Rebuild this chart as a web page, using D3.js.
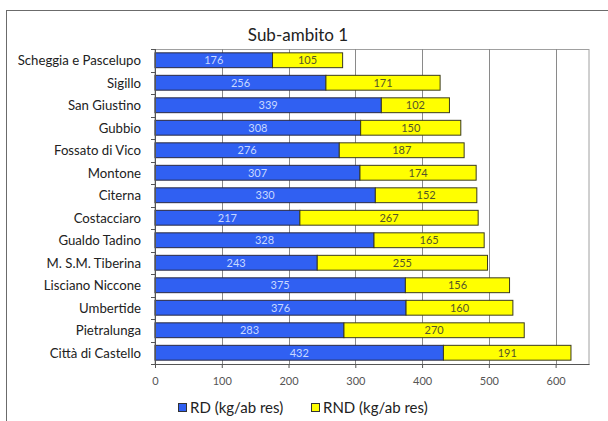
<!DOCTYPE html>
<html><head><meta charset="utf-8">
<script src="https://cdn.jsdelivr.net/npm/d3@7"></script>
<style>body{margin:0;background:#fff;} svg{display:block;font-family:Lato,"Open Sans",sans-serif;}</style>
</head><body>
<script>
const categories = ["Scheggia e Pascelupo","Sigillo","San Giustino","Gubbio","Fossato di Vico","Montone","Citerna","Costacciaro","Gualdo Tadino","M. S.M. Tiberina","Lisciano Niccone","Umbertide","Pietralunga","Città di Castello"];
const rd  = [176,256,339,308,276,307,330,217,328,243,375,376,283,432];
const rnd = [105,171,102,150,187,174,152,267,165,255,156,160,270,191];
const seriesNames = ["RD (kg/ab res)","RND (kg/ab res)"];
const xTicks = [0,100,200,300,400,500,600];
const title = "Sub-ambito 1";

const W=608,H=421;
const m={l:155,r:19,t:49,b:57};
const svg=d3.select("body").append("svg").attr("width",W).attr("height",H);
svg.append("rect").attr("x",6.5).attr("y",10.5).attr("width",620).attr("height",430).attr("fill","#fff").attr("stroke","#6b6b6b");

const x=d3.scaleLinear().domain([0,650]).range([m.l,W-m.r]);
const y=d3.scaleBand().domain(categories).range([m.t,H-m.b]).paddingInner(0.34).paddingOuter(0.17);

svg.append("rect").attr("x",x(0)).attr("y",m.t+0.5).attr("width",x(650)-x(0)).attr("height",H-m.b-m.t).attr("fill","none").attr("stroke","#a0a0a0");
svg.append("g").selectAll("line").data(xTicks.slice(1)).join("line")
 .attr("x1",d=>Math.round(x(d))+0.5).attr("x2",d=>Math.round(x(d))+0.5).attr("y1",m.t).attr("y2",H-m.b)
 .attr("stroke","#8a8a8a");

const data=categories.map((c,i)=>({c,rd:rd[i],rnd:rnd[i]}));
const g=svg.append("g");
g.selectAll("rect.rd").data(data).join("rect").attr("class","rd")
 .attr("x",x(0)).attr("y",d=>y(d.c)).attr("width",d=>x(d.rd)-x(0)).attr("height",y.bandwidth())
 .attr("fill","#3060f2").attr("stroke","#2a2a40").attr("stroke-width",1);
g.selectAll("rect.rnd").data(data).join("rect").attr("class","rnd")
 .attr("x",d=>x(d.rd)).attr("y",d=>y(d.c)).attr("width",d=>x(d.rd+d.rnd)-x(d.rd)).attr("height",y.bandwidth())
 .attr("fill","#ffff00").attr("stroke","#3a3a20").attr("stroke-width",1);
g.selectAll("text.rdl").data(data).join("text")
 .attr("x",d=>(x(0)+x(d.rd))/2).attr("y",d=>y(d.c)+y.bandwidth()/2).attr("dy","0.36em")
 .attr("text-anchor","middle").attr("font-size",11).attr("fill","#c8d8ff").text(d=>d.rd);
g.selectAll("text.rndl").data(data).join("text")
 .attr("x",d=>(x(d.rd)+x(d.rd+d.rnd))/2).attr("y",d=>y(d.c)+y.bandwidth()/2).attr("dy","0.36em")
 .attr("text-anchor","middle").attr("font-size",11).attr("fill","#55552a").text(d=>d.rnd);

const ya=svg.append("g");
ya.append("line").attr("x1",x(0)+0.5).attr("x2",x(0)+0.5).attr("y1",m.t).attr("y2",H-m.b).attr("stroke","#555");
const bounds=d3.range(categories.length+1).map(i=>m.t+i*(H-m.b-m.t)/categories.length);
ya.selectAll("line.t").data(bounds).join("line").attr("x1",x(0)-4).attr("x2",x(0)).attr("y1",d=>Math.round(d)+0.5).attr("y2",d=>Math.round(d)+0.5).attr("stroke","#555");
ya.selectAll("text").data(categories).join("text").attr("x",141).attr("y",c=>y(c)+y.bandwidth()/2).attr("dy","0.36em")
 .attr("text-anchor","end").attr("font-size",13.2).attr("fill","#222").text(c=>c);

const xa=svg.append("g").attr("transform",`translate(0,${H-m.b})`)
 .call(d3.axisBottom(x).tickValues(xTicks).tickSize(4).tickSizeOuter(0).tickPadding(9));
xa.select(".domain").attr("stroke","#555");
xa.selectAll(".tick line").attr("stroke","#555");
xa.selectAll("text").attr("font-size",11).attr("fill","#555").attr("font-family","Lato,sans-serif");

svg.append("text").attr("x",298).attr("y",41).attr("text-anchor","middle").attr("font-size",17).attr("fill","#222").text(title);

const leg=[{n:seriesNames[0],c:"#3060f2",x:178},{n:seriesNames[1],c:"#ffff00",x:311}];
const lg=svg.append("g").selectAll("g").data(leg).join("g").attr("transform",d=>`translate(${d.x},403)`);
lg.append("rect").attr("x",0.5).attr("y",0.5).attr("width",8).attr("height",8).attr("fill",d=>d.c).attr("stroke","#333");
lg.append("text").attr("x",12).attr("y",9.5).attr("font-size",15).attr("fill","#222").text(d=>d.n);
</script>
</body></html>
